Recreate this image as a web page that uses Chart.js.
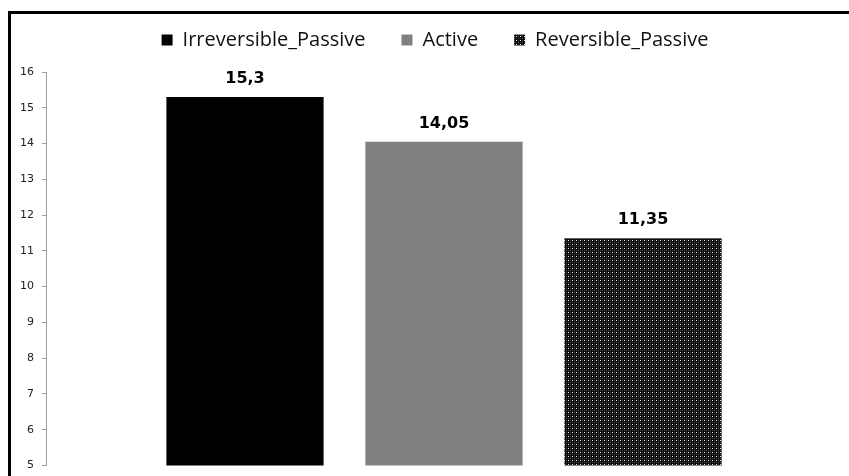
<!DOCTYPE html>
<html>
<head>
<meta charset="utf-8">
<script src="https://cdn.jsdelivr.net/npm/chart.js@4"></script>
<style>
  html, body { margin: 0; padding: 0; background: #fff; }
  #wrap { width: 849px; height: 476px; }
</style>
</head>
<body>
<div id="wrap"><canvas id="chart" width="849" height="476"></canvas></div>
<script>
const categories = ['Fallback'];
const seriesNames = ['Irreversible_Passive', 'Active', 'Reversible_Passive'];
const seriesValues = [15.3, 14.05, 11.35];
const yTicks = [5, 6, 7, 8, 9, 10, 11, 12, 13, 14, 15, 16];

// dotted dark fill for the third bar
function makePattern() {
  const c = document.createElement('canvas');
  c.width = 4; c.height = 4;
  const g = c.getContext('2d');
  g.fillStyle = '#0d0d0d';
  g.fillRect(0, 0, 4, 4);
  g.fillStyle = '#e8e8e8';
  g.fillRect(0, 0, 1, 1);
  g.fillStyle = '#555';
  g.fillRect(2, 2, 1, 1);
  g.fillStyle = '#3a3a3a';
  g.fillRect(2, 0, 1, 1);
  g.fillRect(0, 2, 1, 1);
  return g.createPattern(c, 'repeat');
}

const ctx = document.getElementById('chart').getContext('2d');
const fills = ['#000000', '#808080', makePattern()];

const frame = {
  id: 'frame',
  beforeDraw(chart) {
    const g = chart.ctx;
    g.save();
    g.fillStyle = '#fff';
    g.fillRect(0, 0, chart.width, chart.height);
    g.fillStyle = '#000';
    g.fillRect(8, 11, 3, chart.height - 11);
    g.fillRect(8, 11, chart.width - 8, 3);
    g.restore();
  }
};

// leave some room between the legend and the plot, nudge it right a bit
const legendGap = {
  id: 'legendGap',
  beforeLayout(chart) {
    const lg = chart.legend;
    if (lg && !lg._gapPatched) {
      const fit = lg.fit.bind(lg);
      lg.fit = function () { fit(); this.height += 12; };
      lg._gapPatched = true;
    }
  },
  afterLayout(chart) {
    const lg = chart.legend;
    if (lg) { lg.left += 14; lg.right += 14; }
  }
};

const valueLabels = {
  id: 'valueLabels',
  afterDatasetsDraw(chart) {
    const g = chart.ctx;
    g.save();
    g.font = 'bold 16px "DejaVu Sans", Verdana, sans-serif';
    g.fillStyle = '#000';
    g.textAlign = 'center';
    g.textBaseline = 'alphabetic';
    chart.data.datasets.forEach((ds, i) => {
      const bar = chart.getDatasetMeta(i).data[0];
      const txt = String(ds.data[0]).replace('.', ',');
      g.fillText(txt, bar.x, bar.y - 14);
    });
    g.restore();
  }
};

new Chart(ctx, {
  type: 'bar',
  data: {
    labels: categories,
    datasets: seriesNames.map((name, i) => ({
      label: name,
      data: [seriesValues[i]],
      backgroundColor: fills[i],
      borderColor: fills[i],
      borderWidth: 0,
      categoryPercentage: 0.75,
      barPercentage: 0.79,
    }))
  },
  options: {
    responsive: false,
    animation: false,
    layout: { padding: { top: -6, right: 7, bottom: 10.5, left: 0 } },
    plugins: {
      tooltip: { enabled: false },
      legend: {
        display: true,
        position: 'top',
        labels: {
          boxWidth: 11,
          boxHeight: 11,
          padding: 36,
          color: '#111',
          font: { family: '"Open Sans", "Noto Sans", sans-serif', size: 20 }
        }
      }
    },
    scales: {
      x: { display: false },
      y: {
        min: 5,
        max: 16,
        afterFit(scale) {
          scale.width = 46;
          scale.paddingTop = 0;
          scale.paddingBottom = 0;
        },
        afterBuildTicks(scale) { scale.ticks = yTicks.map(v => ({ value: v })); },
        border: { display: true, color: '#a0a0a0', width: 1 },
        grid: { drawOnChartArea: false, drawTicks: true, tickLength: 4, color: '#a0a0a0' },
        ticks: {
          padding: 8,
          color: '#222',
          font: { family: '"DejaVu Sans", Verdana, sans-serif', size: 11 }
        }
      }
    }
  },
  plugins: [frame, legendGap, valueLabels]
});
</script>
</body>
</html>
